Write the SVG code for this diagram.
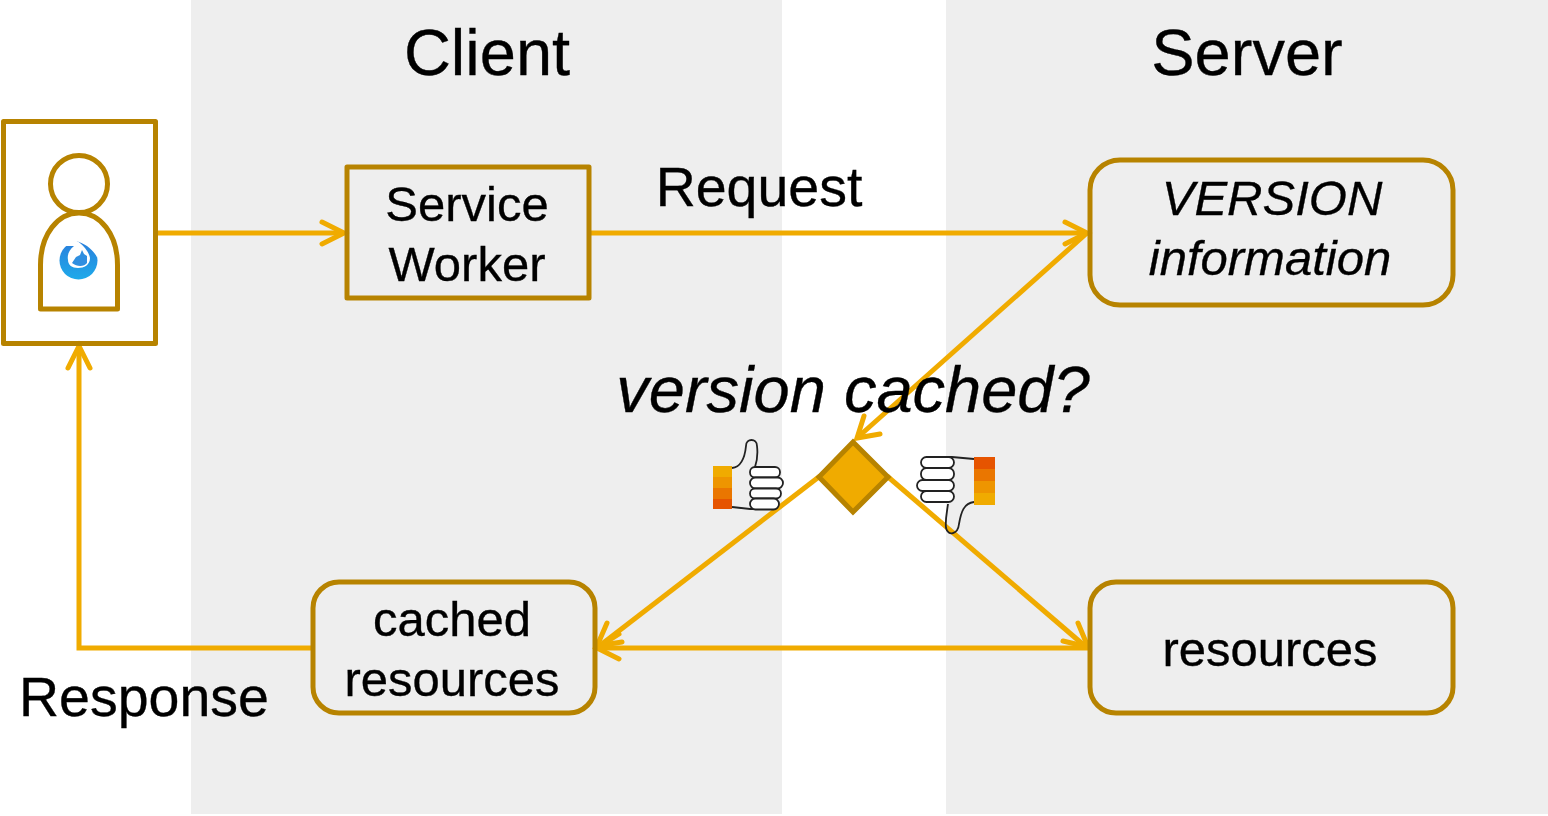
<svg xmlns="http://www.w3.org/2000/svg" width="1548" height="816" viewBox="0 0 1548 816">
<defs>
<style>
text{font-family:"Liberation Sans",Arial,sans-serif;fill:#000;stroke:#000;stroke-width:.35;text-anchor:middle}
.it{font-style:italic}
.box{fill:none;stroke:#b78300;stroke-width:5;stroke-linejoin:round}
.con{fill:none;stroke:#f0ab00;stroke-width:5;stroke-linecap:butt}
.head{fill:none;stroke:#f0ab00;stroke-width:5;stroke-linecap:round;stroke-linejoin:miter}
.f{fill:#fff;stroke:#222;stroke-width:1.8}
.l{fill:none;stroke:#222;stroke-width:1.8}
</style>
<linearGradient id="bird" x1="0" y1="0" x2="0" y2="1">
<stop offset="0" stop-color="#2a7fdc"/>
<stop offset="1" stop-color="#1eaaea"/>
</linearGradient>
</defs>
<g id="lanes">
<rect x="191" y="0" width="591" height="814" fill="#eeeeee"/>
<rect x="946" y="0" width="602" height="814" fill="#eeeeee"/>
<text x="487" y="75" font-size="65">Client</text>
<text x="1247" y="75" font-size="65">Server</text>
</g>
<g id="connectors">
<path class="con" d="M157 233H343"/>
<path class="head" d="M322 222L344 233L322 244"/>
<path class="con" d="M590 233H1085"/>
<path class="head" d="M1065 222L1087 233L1065 244"/>
<path class="con" d="M1087 233L857 438"/>
<path class="head" d="M880 434L857 438L864 416"/>
<path class="con" d="M820 476L598 647"/>
<path class="head" d="M607 623L597 646L622 642"/>
<path class="con" d="M887 476L1086 647"/>
<path class="head" d="M1078 623L1088 647L1063 641"/>
<path class="con" d="M1088 648H598"/>
<path class="head" d="M619 659L597 648L619 634"/>
<path class="con" d="M313 648H79V347"/>
<path class="head" d="M68 368L79 346L90 368"/>
</g>
<g id="browser">
<rect class="box" x="3.500" y="121.500" width="152" height="222"/>
<circle class="box" cx="79" cy="184" r="28.500"/>
<path class="box" d="M40.500 309V265C40.500 234 58 213 79 213C100 213 117.500 234 117.500 265V309Z"/>
<g id="browser-logo">
<circle cx="78.500" cy="260.500" r="19" fill="url(#bird)"/>
<path d="M74 246C69 250 67 255 68 260C68 265 72 268 78 268C84 268 90 265 90 258C89 252 84 246 78.300 241.700L74 240L56 240V246Z" fill="#fff"/>
<path d="M78.300 241.700C88 245 95 252 97.300 258L99 240H78Z" fill="#fff"/>
<path d="M72 263L76 257L80 255L82 250L84 254L87 256L87 263C84 267 77 267 72 263Z" fill="#2f8fe0"/>
</g>
</g>
<g id="service-worker">
<rect class="box" x="347" y="167" width="242" height="131"/>
<text x="467" y="221" font-size="49">Service</text>
<text x="467" y="281" font-size="49">Worker</text>
</g>
<g id="request-label"><text x="759" y="206" font-size="55.500">Request</text></g>
<g id="version-information">
<rect class="box" x="1090" y="160" width="363" height="145" rx="30"/>
<text class="it" x="1272" y="215" font-size="49">VERSION</text>
<text class="it" x="1270" y="275" font-size="49">information</text>
</g>
<g id="version-cached">
<text class="it" x="853" y="412" font-size="65">version cached?</text>
<path d="M853 442L888 477L853 512L819 477Z" fill="#f0ab00" stroke="#b78300" stroke-width="5" stroke-linejoin="miter"/>
</g>
<g id="thumbs-up">
<rect x="713" y="466" width="19" height="11" fill="#f0ab00"/>
<rect x="713" y="477" width="19" height="11" fill="#ee9500"/>
<rect x="713" y="488" width="19" height="11" fill="#ea7600"/>
<rect x="713" y="499" width="19" height="10" fill="#e65400"/>
<path class="l" d="M732 468C742 467 745 456 746 446C746 438 757 438 757 446C758 454 757 461 755 467M732 507L750 509H775"/>
<rect class="f" x="750" y="467" width="30" height="10.500" rx="5"/>
<rect class="f" x="750" y="477.500" width="33" height="11" rx="5.500"/>
<rect class="f" x="750" y="488.500" width="31" height="10" rx="5"/>
<rect class="f" x="750" y="498.500" width="29" height="11" rx="5.500"/>
</g>
<g id="thumbs-down">
<rect x="974" y="457" width="21" height="12" fill="#e65400"/>
<rect x="974" y="469" width="21" height="12" fill="#ea7600"/>
<rect x="974" y="481" width="21" height="12" fill="#ee9500"/>
<rect x="974" y="493" width="21" height="12" fill="#f0ab00"/>
<path class="l" d="M974 459L952 457H926M974 502C964 503 961 512 959 524C958 534 948 537 946 528C945 520 947 512 948 504"/>
<rect class="f" x="921" y="457" width="33" height="11" rx="5.500"/>
<rect class="f" x="921" y="468" width="33" height="12" rx="5.500"/>
<rect class="f" x="917" y="480" width="37" height="11" rx="5.500"/>
<rect class="f" x="921" y="491" width="33" height="11" rx="5.500"/>
</g>
<g id="cached-resources">
<rect class="box" x="313" y="582" width="282" height="131" rx="26"/>
<text x="452" y="636" font-size="49">cached</text>
<text x="452" y="696" font-size="49">resources</text>
</g>
<g id="resources">
<rect class="box" x="1090" y="582" width="363" height="131" rx="26"/>
<text x="1270" y="666" font-size="49">resources</text>
</g>
<g id="response-label"><text x="144" y="716" font-size="55.500">Response</text></g>
</svg>
